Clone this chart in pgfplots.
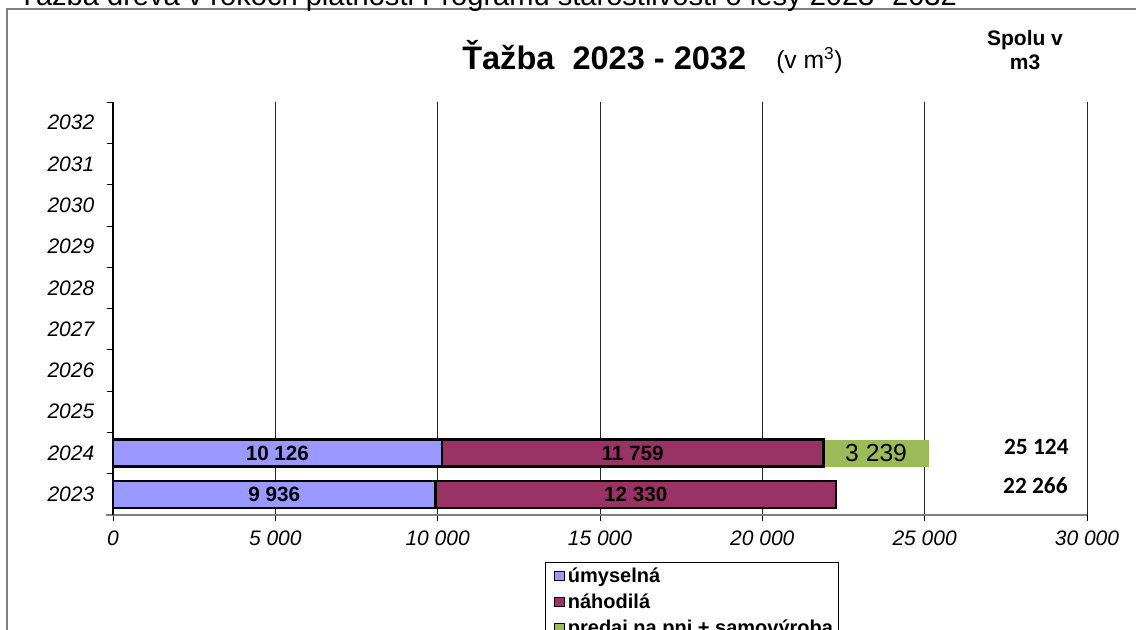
\documentclass[border=0pt]{standalone}
\usepackage{pgfplots}
\pgfplotsset{compat=1.18}
\usepackage{fontspec}
\setmainfont{Liberation Sans}
\newfontfamily\carlito{Carlito}
\definecolor{umy}{HTML}{9999FF}
\definecolor{nah}{HTML}{993366}
\definecolor{pre}{HTML}{9BBB59}
\definecolor{frm}{HTML}{808080}
\begin{document}
\begin{tikzpicture}[x=0.75pt,y=-0.75pt]
\useasboundingbox (0,0) rectangle (1136,629);
\clip (0,0) rectangle (1136,629);
\draw[frm, line width=1.2pt] (7,640) -- (7,9) -- (1150,9);
\node[anchor=base west, inner sep=0, font=\fontsize{21.8}{22}\selectfont] at (18,5) {Ťažba dreva v rokoch platnosti Programu starostlivosti o lesy 2023 -2032};
\begin{axis}[
  at={(84.75pt,-386.25pt)}, anchor=south west,
  scale only axis, width=730.5pt, height=309.75pt,
  xmin=0, xmax=30000, ymin=0.5, ymax=10.5,
  xbar stacked, bar width=20.25pt,
  clip=false, scaled x ticks=false,
  axis x line*=bottom, axis y line*=left,
  x axis line style={-, draw=frm, line width=1.5pt, shorten <=-5pt},
  y axis line style={-, draw=black, line width=0.8pt},
  xtick={0,5000,10000,15000,20000,25000,30000},
  xticklabels={0,5 000,10 000,15 000,20 000,25 000,30 000},
  xmajorgrids, major grid style={black!85, line width=0.7pt},
  tick align=outside, major tick length=4.5pt,
  tick style={black, line width=0.6pt},
  ytick={0.5,1.5,...,10.5}, yticklabels={,,},
  extra y ticks={1,2,3,4,5,6,7,8,9,10},
  extra y tick labels={2023,2024,2025,2026,2027,2028,2029,2030,2031,2032},
  extra y tick style={major tick length=0pt, grid=none},
  ticklabel style={font=\itshape\fontsize{15.75}{16}\selectfont},
  xticklabel style={yshift=-4pt},
  yticklabel style={xshift=-10.5pt},
  legend style={at={(0.4435,-0.1138)}, anchor=north west, draw=black, line width=0.8pt,
    font=\bfseries\fontsize{15}{15}\selectfont, row sep=3pt, inner xsep=2pt, inner ysep=2pt},
  legend cell align=left,
  legend image code/.code={\path (0pt,0pt); \draw[#1, line width=0.8pt] (4pt,-3.5pt) rectangle (11.5pt,3.5pt);},
]
\addplot[fill=umy, draw=black, line width=1.8pt] coordinates {(9936,1) (10126,2)};
\addplot[fill=nah, draw=black, line width=1.8pt] coordinates {(12330,1) (11759,2)};
\addplot[fill=pre, draw=none] coordinates {(0,1) (3239,2)};
\legend{úmyselná, náhodilá, predaj na pni + samovýroba\hspace{4pt}}
\coordinate (la) at (axis cs:5063,2);
\coordinate (lb) at (axis cs:4968,1);
\coordinate (lc) at (axis cs:16005,2);
\coordinate (ld) at (axis cs:16101,1);
\coordinate (le) at (axis cs:23504,2);
\coordinate (lf) at (axis cs:28440,2.16);
\coordinate (lg) at (axis cs:28410,1.22);
\end{axis}
\node[font=\bfseries\fontsize{15.5}{15.5}\selectfont] at (la) {10 126};
\node[font=\bfseries\fontsize{15.5}{15.5}\selectfont] at (lb) {9 936};
\node[font=\bfseries\fontsize{15.5}{15.5}\selectfont] at (lc) {11 759};
\node[font=\bfseries\fontsize{15.5}{15.5}\selectfont] at (ld) {12 330};
\node[font=\fontsize{18.5}{18.5}\selectfont] at (le) {3 239};
\node[font=\carlito\bfseries\fontsize{17.5}{17.5}\selectfont] at (lf) {25 124};
\node[font=\carlito\bfseries\fontsize{17.5}{17.5}\selectfont] at (lg) {22 266};
\node[anchor=base west, inner sep=0, font=\bfseries\fontsize{24.4}{24.4}\selectfont] at (462,69) {Ťažba\ \ 2023 - 2032};
\node[anchor=base west, inner sep=0, font=\fontsize{18.5}{19}\selectfont] at (776,68) {(v m\textsuperscript{3})};
\node[anchor=base, inner sep=0, font=\bfseries\fontsize{15.75}{16}\selectfont] at (1025,45) {Spolu v};
\node[anchor=base, inner sep=0, font=\bfseries\fontsize{15.75}{16}\selectfont] at (1025,69) {m3};
\end{tikzpicture}
\end{document}
